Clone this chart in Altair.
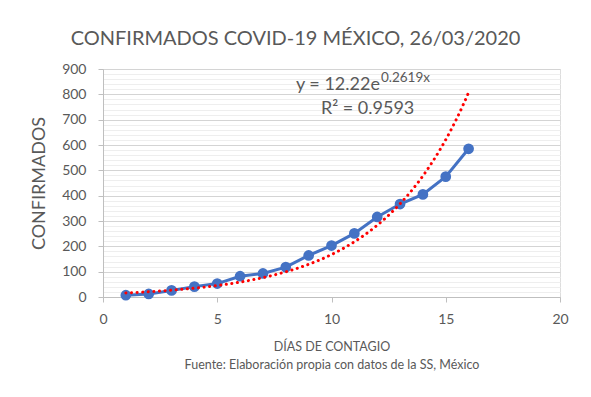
import altair as alt
import pandas as pd

# Data
dias = [1, 2, 3, 4, 5, 6, 7, 8, 9, 10, 11, 12, 13, 14, 15, 16]
confirmados = [7, 12, 26, 41, 53, 82, 93, 118, 164, 203, 251, 316, 367, 405, 475, 585]

# Exponential trendline coefficients (as shown on chart)
coef_a = 12.22
coef_b = 0.2619
trend_start = 1
trend_end = 16

titulo = "CONFIRMADOS COVID-19 MÉXICO, 26/03/2020"
x_title = ["DÍAS DE CONTAGIO", "Fuente: Elaboración propia con datos de la SS, México"]
y_title = "CONFIRMADOS"
eq_main = "y = 12.22e"
eq_sup = "0.2619x"
eq_r2 = "R² = 0.9593"

x_ticks = [0, 5, 10, 15, 20]
y_ticks = list(range(0, 901, 20))

FONT = "Lato"
GRAY = "#595959"
BLUE = "#4472C4"

df = pd.DataFrame({"dia": dias, "conf": confirmados})

xs = alt.X("dia:Q", scale=alt.Scale(domain=[0, 20], nice=False),
           axis=alt.Axis(values=x_ticks, tickCount=len(x_ticks), grid=False, labelFlush=False,
                         domainColor="#bfbfbf", tickColor="#bfbfbf",
                         tickSize=5, labelFontSize=14, labelColor=GRAY, labelPadding=10,
                         labelFont=FONT, title=x_title, titleFont=FONT, titleFontSize=12.5,
                         titleFontWeight="normal", titleColor=GRAY, titlePadding=14,
                         titleLineHeight=18, labelOverlap=False))
ys = alt.Y("conf:Q", scale=alt.Scale(domain=[0, 900], nice=False),
           axis=alt.Axis(values=y_ticks, tickCount=len(y_ticks), labelOverlap=False, labelFlush=False,
                         labelExpr="datum.value % 100 === 0 ? datum.label : ''",
                         gridColor=alt.condition("datum.value % 100 === 0", alt.value("#d4d4d4"), alt.value("#eeeeee")),
                         tickOpacity=alt.condition("datum.value % 100 === 0", alt.value(1), alt.value(0)),
                         tickSize=5, tickColor="#bfbfbf", domainColor="#bfbfbf",
                         labelFontSize=14, labelColor=GRAY, labelFont=FONT, labelPadding=12,
                         title=y_title, titleFont=FONT, titleFontSize=18, titleFontWeight="normal",
                         titleColor=GRAY, titlePadding=13))

base = alt.Chart(df)
line = base.mark_line(color=BLUE, strokeWidth=3).encode(x=xs, y=ys)
pts = base.mark_circle(color=BLUE, size=115, opacity=1).encode(x="dia:Q", y="conf:Q")

trend = alt.Chart(alt.sequence(trend_start, trend_end + 0.001, 0.1, as_="t")).transform_calculate(
    ty=f"{coef_a} * exp({coef_b} * datum.t)"
).mark_line(color="#FF0000", strokeWidth=3, strokeDash=[0.1, 5.5], strokeCap="round").encode(
    x="t:Q", y="ty:Q")

ann_main = pd.DataFrame({"x": [12.12], "y": [837], "t": [eq_main]})
ann_sup = pd.DataFrame({"x": [12.12], "y": [864], "t": [eq_sup]})
ann_r2 = pd.DataFrame({"x": [11.58], "y": [742], "t": [eq_r2]})

t1 = alt.Chart(ann_main).mark_text(font=FONT, fontSize=18, color=GRAY, align="right", baseline="middle").encode(
    x="x:Q", y="y:Q", text="t:N")
t2 = alt.Chart(ann_sup).mark_text(font=FONT, fontSize=13.5, color=GRAY, align="left", baseline="middle", dx=1).encode(
    x="x:Q", y="y:Q", text="t:N")
t3 = alt.Chart(ann_r2).mark_text(font=FONT, fontSize=18, color=GRAY, align="center", baseline="middle").encode(
    x="x:Q", y="y:Q", text="t:N")

chart = alt.layer(line, pts, trend, t1, t2, t3).properties(
    width=457, height=228,
    title=alt.TitleParams(titulo, font=FONT, fontSize=20, fontWeight="normal", color=GRAY,
                          anchor="middle", offset=13, dx=-36),
    autosize=alt.AutoSizeParams(type="none"),
    padding={"left": 95, "top": 61, "right": 23, "bottom": 92},
).configure_view(stroke=None).configure(background="white")

chart.save("out.html", embed_options={"renderer": "svg", "actions": False})
